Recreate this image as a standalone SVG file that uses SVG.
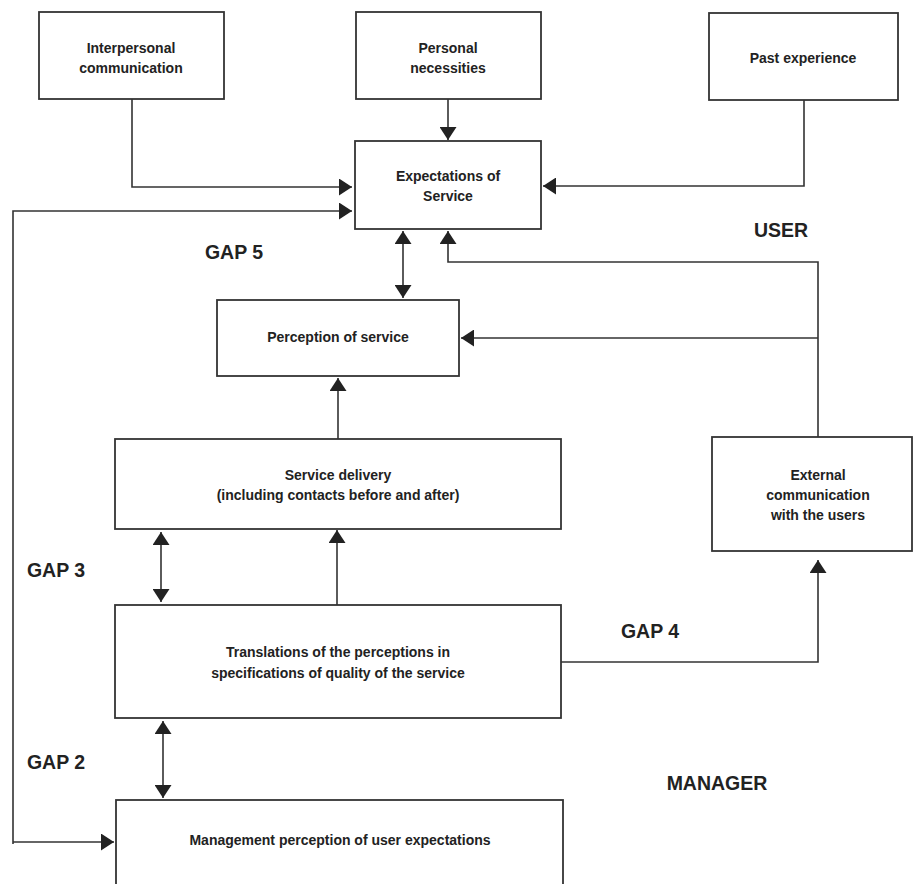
<svg xmlns="http://www.w3.org/2000/svg" width="914" height="884" viewBox="0 0 914 884">
<style>
.box{fill:#fff;stroke:#333;stroke-width:1.8}
.ln{fill:none;stroke:#333;stroke-width:1.6}
.t{font-family:"Liberation Sans",Arial,sans-serif;font-weight:bold;font-size:14px;fill:#222;text-anchor:middle}
.g{font-family:"Liberation Sans",Arial,sans-serif;font-weight:bold;font-size:19.5px;fill:#222;text-anchor:middle}
</style>
<defs>
<marker id="ah" viewBox="0 0 13 17" refX="13" refY="8.5" markerWidth="13" markerHeight="17" markerUnits="userSpaceOnUse" orient="auto-start-reverse">
<path d="M0,0 L13,8.5 L0,17 Z" fill="#222"/>
</marker>
</defs>
<rect width="914" height="884" fill="#fff"/>
<g id="connectors">
<path class="ln" d="M132,99 V187 H352" marker-end="url(#ah)"/>
<path class="ln" d="M448,99 V140" marker-end="url(#ah)"/>
<path class="ln" d="M804,100 V186 H543" marker-end="url(#ah)"/>
<path class="ln" d="M13,844 V211 H352" marker-end="url(#ah)"/>
<path class="ln" d="M13,842 H114" marker-end="url(#ah)"/>
<path class="ln" d="M403,231 V298" marker-start="url(#ah)" marker-end="url(#ah)"/>
<path class="ln" d="M818,437 V262 H448 V231" marker-end="url(#ah)"/>
<path class="ln" d="M818,338 H461" marker-end="url(#ah)"/>
<path class="ln" d="M338,439 V378" marker-end="url(#ah)"/>
<path class="ln" d="M161,532 V602" marker-start="url(#ah)" marker-end="url(#ah)"/>
<path class="ln" d="M337,605 V530" marker-end="url(#ah)"/>
<path class="ln" d="M561,662 H818 V560" marker-end="url(#ah)"/>
<path class="ln" d="M163,721 V798" marker-start="url(#ah)" marker-end="url(#ah)"/>
</g>
<g id="interpersonal">
<rect class="box" x="39" y="12" width="185" height="87"/>
<text class="t" x="131" y="53">Interpersonal</text>
<text class="t" x="131" y="73">communication</text>
</g>
<g id="personal">
<rect class="box" x="356" y="12" width="185" height="87"/>
<text class="t" x="448" y="53">Personal</text>
<text class="t" x="448" y="73">necessities</text>
</g>
<g id="past">
<rect class="box" x="709" y="13" width="189" height="87"/>
<text class="t" x="803" y="63">Past experience</text>
</g>
<g id="expectations">
<rect class="box" x="355" y="141" width="186" height="88"/>
<text class="t" x="448" y="181">Expectations of</text>
<text class="t" x="448" y="201">Service</text>
</g>
<g id="perception">
<rect class="box" x="217" y="300" width="242" height="76"/>
<text class="t" x="338" y="342">Perception of service</text>
</g>
<g id="delivery">
<rect class="box" x="115" y="439" width="446" height="90"/>
<text class="t" x="338" y="480">Service delivery</text>
<text class="t" x="338" y="500">(including contacts before and after)</text>
</g>
<g id="external">
<rect class="box" x="712" y="437" width="200" height="114"/>
<text class="t" x="818" y="480">External</text>
<text class="t" x="818" y="500">communication</text>
<text class="t" x="818" y="520">with the users</text>
</g>
<g id="translations">
<rect class="box" x="115" y="605" width="446" height="113"/>
<text class="t" x="338" y="657">Translations of the perceptions in</text>
<text class="t" x="338" y="678">specifications of quality of the service</text>
</g>
<g id="management">
<rect class="box" x="116" y="800" width="447" height="95"/>
<text class="t" x="340" y="845">Management perception of user expectations</text>
</g>
<g id="labels">
<text class="g" x="234" y="259">GAP 5</text>
<text class="g" x="781" y="237">USER</text>
<text class="g" x="56" y="577">GAP 3</text>
<text class="g" x="650" y="638">GAP 4</text>
<text class="g" x="56" y="769">GAP 2</text>
<text class="g" x="717" y="790">MANAGER</text>
</g>
</svg>
